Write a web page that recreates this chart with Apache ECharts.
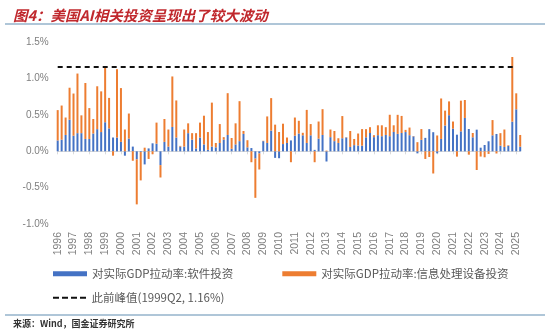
<!DOCTYPE html>
<html>
<head>
<meta charset="utf-8">
<script src="https://cdn.jsdelivr.net/npm/echarts@6/dist/echarts.min.js"></script>
<style>
html,body{margin:0;padding:0;background:#fff;}
#chart{width:550px;height:334px;}
</style>
</head>
<body>
<div id="chart"></div>
<script>
// Quarters 1996Q2 .. 2025Q3
var quarters = [];
(function(){
  for (var y = 1996; y <= 2025; y++) {
    for (var q = 1; q <= 4; q++) {
      if (y === 1996 && q < 2) continue;
      if (y === 2025 && q > 3) continue;
      quarters.push(y + 'Q' + q);
    }
  }
})();

var yearLabels = ['1996','1997','1998','1999','2000','2001','2002','2003','2004','2005','2006','2007','2008','2009','2010','2011','2012','2013','2014','2015','2016','2017','2018','2019','2020','2021','2022','2023','2024','2025'];

// Contribution to real GDP growth (%), software investment
var software = [
 0.15,0.16,0.225,0.435,0.215,0.25,0.25,0.17,0.17,0.245,0.305,0.265,0.40,0.315,0.19,0.19,
 0.13,-0.06,0.175,0.065,-0.11,-0.01,-0.18,0.04,0.11,0.105,-0.19,0.13,0.065,0.335,0.19,0.065,
 0.065,0.25,0.16,0.04,0.19,0.095,0.02,0.065,0.055,0.115,0.16,0.225,0.035,0.095,0.14,0.24,
 0.055,0.045,-0.10,-0.03,0.14,0.115,0.285,-0.09,-0.095,0.10,0.115,0.15,0.215,0.245,0.22,0.115,
 0.22,0.02,0.175,0.225,-0.14,0.195,0.14,0.115,0.18,0.19,0.06,0.085,0.08,0.078,0.193,0.252,
 0.195,0.222,0.208,0.225,0.208,0.266,0.24,0.252,0.265,0.222,0.206,-0.028,0.158,0.185,0.305,0.263,
 -0.028,0.17,0.355,0.497,0.312,0.229,0.275,0.459,0.307,0.193,0.298,0.05,0.087,0.138,0.22,0.239,
 0.078,0.06,0.075,0.408,0.578,0.064
];

// Contribution to real GDP growth (%), information processing equipment investment
var equipment = [
 0.417,0.47,0.24,0.44,0.58,0.82,0.245,0.77,0.425,0.20,0.59,0.56,0.76,0.42,-0.06,0.94,
 0.74,0.30,0.345,-0.13,-0.62,-0.39,0.05,-0.105,-0.04,0.29,-0.17,0.315,0.235,0.695,0.51,0.01,
 0.235,0.135,0.09,0.21,0.205,0.395,0.245,0.605,0.06,0.26,0.035,0.575,0.148,0.29,0.55,0.04,
 0.098,-0.15,-0.54,-0.22,0.005,0.365,0.447,0.367,0.266,0.28,0.075,-0.15,0.25,0.175,0.035,0.455,
 0.155,-0.15,0.235,0.355,0.01,0.105,0.14,0.065,0.305,0.005,0.22,0.085,0.165,0.228,0.112,0.08,
 0.027,0.136,0.15,0.107,0.295,0.092,0.262,0.235,0.03,0.105,0.005,0.126,0.148,-0.105,-0.078,-0.305,
 0.218,0.557,0.205,0.19,0.098,-0.073,0.422,0.247,-0.046,0.059,-0.257,-0.072,-0.082,-0.036,0.21,-0.03,
 0.172,0.24,0.008,0.89,0.22,0.161
];

var peakValue = 1.16;
var peakFrom = '1996Q2';
var peakTo = '2025Q2';

var seriesNames = ['对实际GDP拉动率:软件投资','对实际GDP拉动率:信息处理设备投资','此前峰值(1999Q2, 1.16%)'];

var chart = echarts.init(document.getElementById('chart'), null, {renderer:'canvas'});
var option = {
  animation: false,
  backgroundColor: '#fff',
  title: [
    {text: '图4：美国AI相关投资呈现出了较大波动', left: 8, top: 3,
     textStyle: {fontFamily: 'Noto Sans CJK SC', fontSize: 14.5, fontWeight: 'bold', fontStyle: 'italic', color: '#c0282d'}},
    {text: '来源：Wind，国金证券研究所', left: 13, top: 318, padding: 0,
     textStyle: {fontFamily: 'Noto Sans CJK SC', fontSize: 9, fontWeight: 'bold', color: '#333', lineHeight: 12}}
  ],
  graphic: [
    {type: 'line', shape: {x1: 5, y1: 24, x2: 545, y2: 24}, style: {stroke: '#94b3cb', lineWidth: 1.5}},
    {type: 'line', shape: {x1: 5, y1: 315, x2: 545, y2: 315}, style: {stroke: '#94b3cb', lineWidth: 1.5}}
  ],
  legend: [
    {data: [seriesNames[0], seriesNames[1]], left: 48, top: 263, icon: 'rect', itemWidth: 34, itemHeight: 5, itemGap: 49,
     textStyle: {fontFamily: 'Noto Sans CJK SC', fontSize: 11.5, color: '#595959'}},
    {data: [{name: seriesNames[2], icon: 'path://M0,0H6V2H0Z M9,0H15V2H9Z M18,0H24V2H18Z M27,0H33V2H27Z'}],
     left: 48, top: 287, itemWidth: 34, itemHeight: 2,
     textStyle: {fontFamily: 'Noto Sans CJK SC', fontSize: 11.5, color: '#595959'}}
  ],
  grid: {left: 57.7, right: 29.8, top: 42.3, bottom: 110, containLabel: false},
  xAxis: [
    {type: 'category', data: quarters, boundaryGap: false, position: 'bottom',
     axisLine: {show: true, onZero: true, lineStyle: {color: '#d9d9d9', width: 1}},
     axisTick: {show: true, length: 3, interval: function(i){return i % 4 === 0;}, lineStyle: {color: '#d9d9d9'}},
     axisLabel: {show: false}, splitLine: {show: false}},
    {type: 'category', data: quarters, boundaryGap: false, position: 'bottom',
     axisLine: {show: false, onZero: false}, axisTick: {show: false}, splitLine: {show: false},
     axisLabel: {show: true, rotate: 90, margin: 8, fontFamily: 'Liberation Sans', fontSize: 10.5, color: '#7f7f7f',
       interval: function(i){return i % 4 === 0;},
       formatter: function(v, i){ return yearLabels[Math.floor(i/4)]; }}}
  ],
  yAxis: {type: 'value', min: -1, max: 1.5, interval: 0.5,
    axisLine: {show: false}, axisTick: {show: false}, splitLine: {show: false},
    axisLabel: {margin: 9, fontFamily: 'Liberation Sans', fontSize: 10, color: '#7f7f7f',
      formatter: function(v){ return v.toFixed(1) + '%'; }}},
  series: [
    {name: seriesNames[0], type: 'bar', stack: 'total', data: software, barWidth: 2,
     itemStyle: {color: '#4472c4'}, xAxisIndex: 0},
    {name: seriesNames[1], type: 'bar', stack: 'total', data: equipment, barWidth: 2,
     itemStyle: {color: '#ed7d31'}, xAxisIndex: 0},
    {name: seriesNames[2], type: 'line', data: [[peakFrom, peakValue],[peakTo, peakValue]], symbol: 'none', xAxisIndex: 0,
     lineStyle: {color: '#111', width: 2, type: [5, 4]}, itemStyle: {color: '#111'}, z: 5}
  ]
};
chart.setOption(option);
</script>
</body>
</html>
